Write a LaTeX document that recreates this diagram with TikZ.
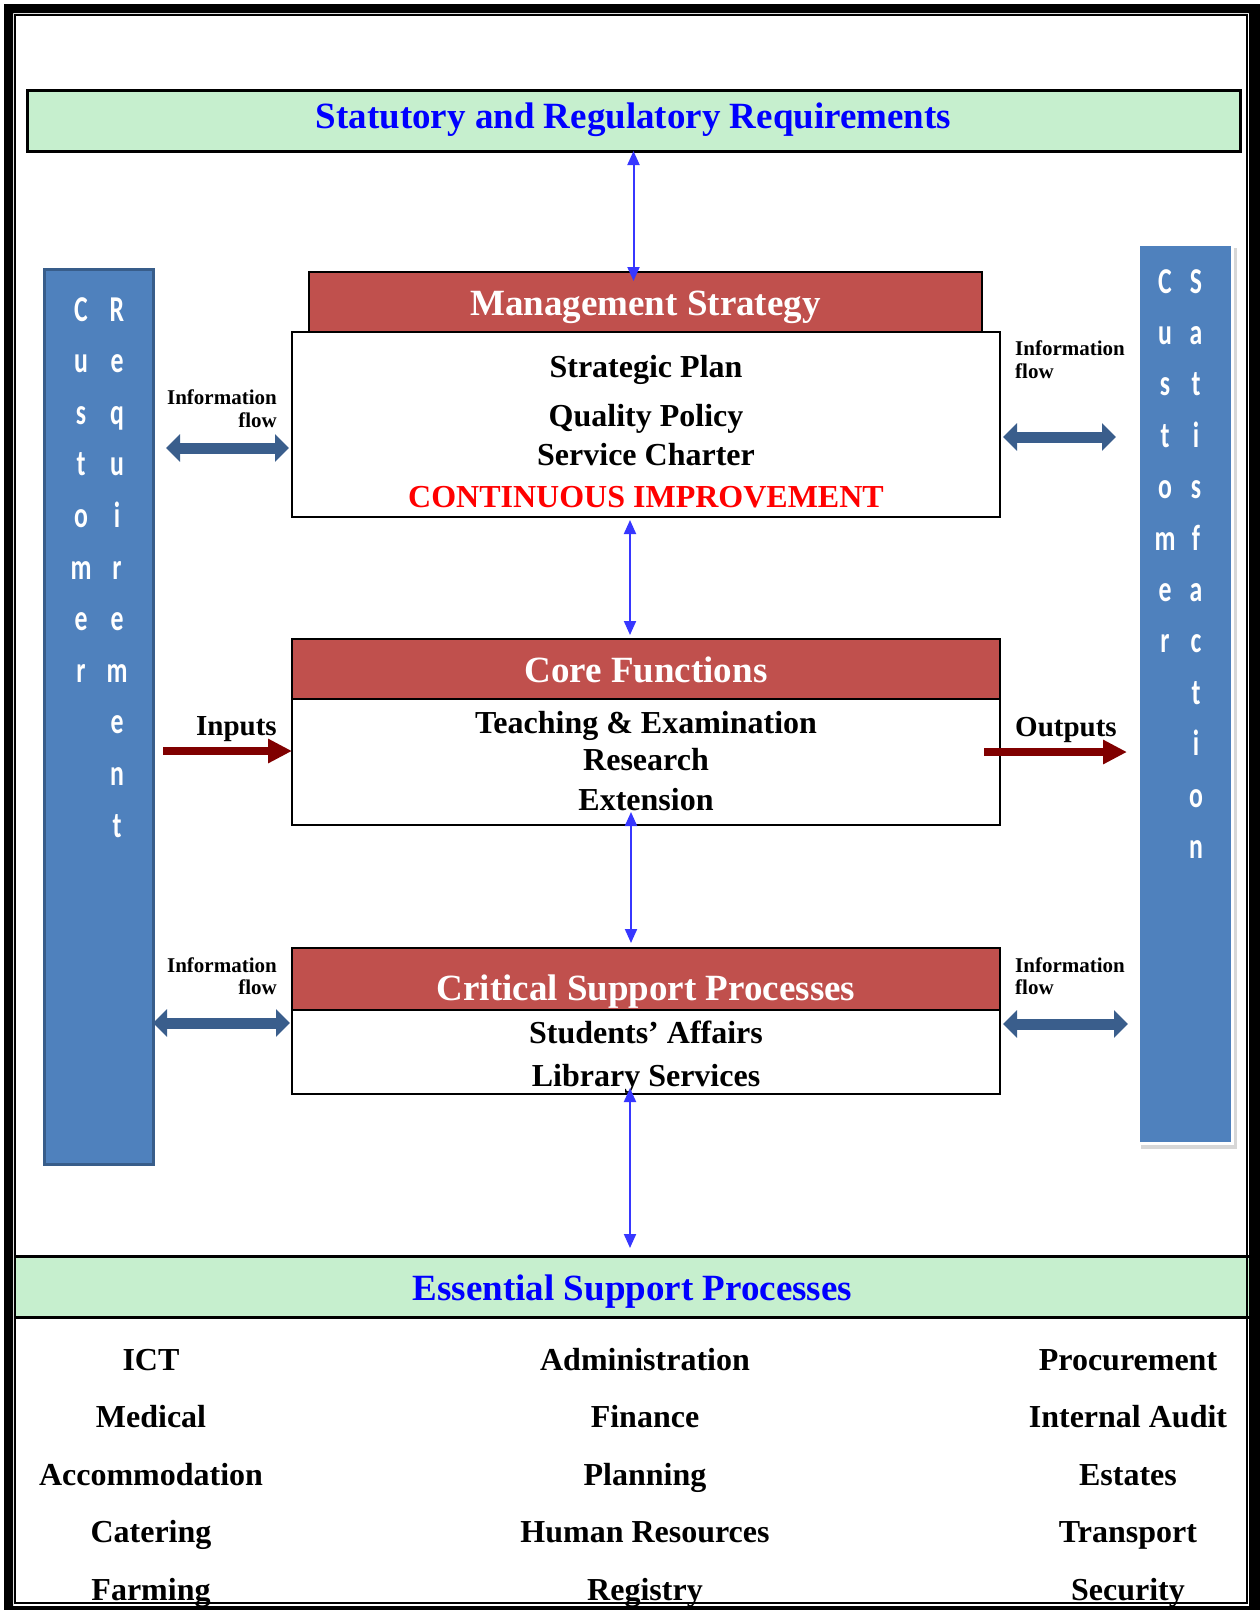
\documentclass[tikz,border=0pt]{standalone}
\usepackage{fontspec}
\setmainfont{Liberation Serif}
\newfontfamily\barfamily{Carlito}
\usetikzlibrary{arrows.meta,calc}

\definecolor{greenfill}{RGB}{198,239,206}
\definecolor{titleblue}{RGB}{0,0,255}
\definecolor{hdrred}{RGB}{192,80,77}
\definecolor{improvered}{RGB}{255,0,0}
\definecolor{barblue}{RGB}{79,129,189}
\definecolor{bardark}{RGB}{56,93,138}
\definecolor{flowblue}{RGB}{58,94,140}
\definecolor{linkblue}{RGB}{55,55,255}
\definecolor{iored}{RGB}{128,0,0}
\definecolor{barshadow}{RGB}{215,215,215}

\newcommand{\titlefont}{\fontsize{37}{40}\selectfont\bfseries}
\newcommand{\itemfont}{\fontsize{32}{36}\selectfont\bfseries}
\newcommand{\flowfont}{\fontsize{21}{22.5}\selectfont\bfseries}
\newcommand{\iofont}{\fontsize{29}{32}\selectfont\bfseries}
\newcommand{\letterfont}{\barfamily\fontsize{28}{30}\selectfont\bfseries}

\begin{document}
\begin{tikzpicture}[
      x=1pt, y=-1pt,
      hdr/.style={draw=black, line width=2.5pt, fill=hdrred, text=white,
                  font=\titlefont, inner sep=0pt, outer sep=0pt,
                  text height=34pt, text depth=8pt, anchor=north west},
      bodybox/.style={draw=black, line width=2.5pt, fill=white,
                      inner sep=0pt, outer sep=0pt, anchor=north west},
      greenbox/.style={fill=greenfill, text=titleblue, font=\titlefont,
                       inner sep=0pt, outer sep=0pt, anchor=north west},
      listitem/.style={font=\itemfont, anchor=base, inner sep=0pt},
      sidebar/.style={fill=barblue, inner sep=0pt, outer sep=0pt, anchor=north west},
      barletter/.style={font=\letterfont, text=white, anchor=base, inner sep=0pt},
      flowlabel/.style={font=\flowfont, inner sep=0pt},
      flowarrow/.style={draw=flowblue, line width=11pt,
                        {Triangle[width=27pt,length=14pt]}-{Triangle[width=27pt,length=14pt]}},
      linkarrow/.style={draw=linkblue, line width=2pt,
                        {Triangle[width=12pt,length=14pt]}-{Triangle[width=12pt,length=14pt]}},
      ioarrow/.style={draw=iored, line width=8pt, -{Triangle[width=23pt,length=24pt]}}
    ]
      \useasboundingbox (0,0) rectangle (1260,1610);

      % top requirement box
      \node[greenbox, draw=black, line width=3pt, minimum width=1213, minimum height=61,
            text height=23pt, text depth=8pt] (statreq) at (27,90)
            {Statutory and Regulatory Requirements};

      % management strategy
      \node[bodybox, minimum width=708, minimum height=185] (mgmtbody) at (292,332) {};
      \node[hdr, minimum width=673, minimum height=60] (mgmthdr) at (309,272) {Management Strategy};
      \node[listitem] (splan) at (646,377) {Strategic Plan};
      \node[listitem] (qpolicy) at (646,426) {Quality Policy};
      \node[listitem] (scharter) at (646,465) {Service Charter};
      \node[listitem, text=improvered] (contimp) at (646,507) {CONTINUOUS IMPROVEMENT};

      % core functions
      \node[bodybox, minimum width=708, minimum height=126] (corebody) at (292,699) {};
      \node[hdr, minimum width=708, minimum height=60] (corehdr) at (292,639) {Core Functions};
      \node[listitem] (teach) at (646,733) {Teaching \& Examination};
      \node[listitem] (research) at (646,770) {Research};
      \node[listitem] (extension) at (646,810) {Extension};

      % critical support
      \node[bodybox, minimum width=708, minimum height=84] (critbody) at (292,1010) {};
      \node[hdr, minimum width=708, minimum height=62, text height=50pt] (crithdr) at (292,948)
            {Critical Support Processes};
      \node[listitem] (students) at (646,1043) {Students’ Affairs};
      \node[listitem] (library) at (646,1086) {Library Services};

      % essential support
      \node[greenbox, minimum width=1233, minimum height=61,
            text height=35pt, text depth=8pt] (essproc) at (16,1256) {Essential Support Processes};
      \draw[line width=3pt] (essproc.north west) -- (essproc.north east)
                            (essproc.south west) -- (essproc.south east);
      \foreach \name [count=\k from 0] in {ICT,Medical,Accommodation,Catering,Farming}
        \node[listitem] (essa\k) at (151,1370+57.5*\k) {\name};
      \foreach \name [count=\k from 0] in {Administration,Finance,Planning,Human Resources,Registry}
        \node[listitem] (essb\k) at (645,1370+57.5*\k) {\name};
      \foreach \name [count=\k from 0] in {Procurement,Internal Audit,Estates,Transport,Security}
        \node[listitem] (essc\k) at (1128,1370+57.5*\k) {\name};

      % customer bars
      \node[sidebar, draw=bardark, line width=3pt, minimum width=109, minimum height=895] (custreq) at (44,269) {};
      \fill[barshadow] (1141,248) rectangle (1237,1149);
      \node[sidebar, draw=white, line width=3pt, minimum width=94, minimum height=899] (custsat) at (1138,244) {};
      \foreach \ch [count=\k from 0] in {C,u,s,t,o,m,e,r}
        \node[barletter] (reqa\k) at (81,321+51.6*\k) {\scalebox{0.92}[1.3]{\ch}};
      \foreach \ch [count=\k from 0] in {R,e,q,u,i,r,e,m,e,n,t}
        \node[barletter] (reqb\k) at (117,321+51.6*\k) {\scalebox{0.92}[1.3]{\ch}};
      \foreach \ch [count=\k from 0] in {C,u,s,t,o,m,e,r}
        \node[barletter] (sata\k) at (1165,293+51.4*\k) {\scalebox{0.92}[1.3]{\ch}};
      \foreach \ch [count=\k from 0] in {S,a,t,i,s,f,a,c,t,i,o,n}
        \node[barletter] (satb\k) at (1196,293+51.4*\k) {\scalebox{0.92}[1.3]{\ch}};

      % information flow
      \node[flowlabel, align=right, anchor=north east] (flowl1) at (277,390) {Information\\flow};
      \node[flowlabel, align=left, anchor=north west] (flowr1) at (1015,341) {Information\\flow};
      \node[flowlabel, align=right, anchor=north east] (flowl2) at (277,957) {Information\\flow};
      \node[flowlabel, align=left, anchor=north west] (flowr2) at (1015,957) {Information\\flow};
      \coordinate (fy1) at (0,448);
      \coordinate (fy2) at (0,437);
      \coordinate (fy3) at (0,1023);
      \coordinate (fy4) at (0,1024);
      \draw[flowarrow, shorten <=13pt, shorten >=3pt] (custreq.east |- fy1) -- (mgmtbody.west |- fy1);
      \draw[flowarrow, shorten <=3pt, shorten >=22pt] (mgmtbody.east |- fy2) -- (custsat.west |- fy2);
      \draw[flowarrow, shorten >=2pt] (custreq.east |- fy3) -- (critbody.west |- fy3);
      \draw[flowarrow, shorten <=3pt, shorten >=10pt] (critbody.east |- fy4) -- (custsat.west |- fy4);

      % inputs and outputs
      \node[font=\iofont, anchor=base east, inner sep=0pt] (inputs) at (277,735) {Inputs};
      \node[font=\iofont, anchor=base west, inner sep=0pt] (outputs) at (1015,736) {Outputs};
      \coordinate (inp) at (163,751);
      \coordinate (outp) at (984,752);
      \draw[ioarrow] (inp) -- (inp -| corebody.west);
      \draw[ioarrow, shorten >=11pt] (outp) -- (outp -| custsat.west);

      % links between the blocks
      \draw[linkarrow, shorten >=-9pt] (statreq.south) -- (statreq.south |- mgmthdr.north);
      \draw[linkarrow, shorten <=3pt, shorten >=4pt] ([xshift=-16pt]mgmtbody.south) -- ([xshift=-16pt]corehdr.north);
      \draw[linkarrow, shorten <=-13pt, shorten >=5pt] ([xshift=-15pt]corebody.south) -- ([xshift=-15pt]crithdr.north);
      \coordinate (esslink) at ([xshift=-16pt]critbody.south);
      \draw[linkarrow, shorten <=-6pt, shorten >=8pt] (esslink) -- (esslink |- essproc.north);

      % page frame
      \fill[black, even odd rule] (4,4) rectangle (1264,1614) (13,13) rectangle (1249,1606);
      \draw[line width=2pt] (15,15) rectangle (1247,1603);
    \end{tikzpicture}
\end{document}
